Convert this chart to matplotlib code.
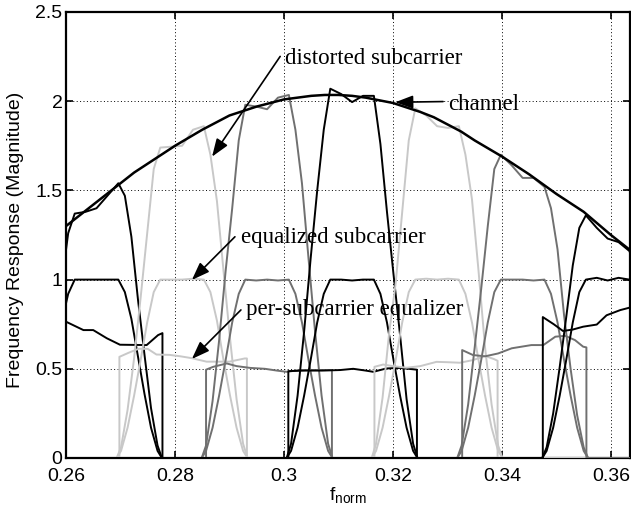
import matplotlib
matplotlib.use('Agg')
import matplotlib.pyplot as plt

# channel magnitude
channel_f = [0.2550, 0.2600, 0.2625, 0.2650, 0.2675, 0.2700, 0.2725, 0.2750, 0.2775, 0.2800, 0.2825,
             0.2850, 0.2875, 0.2900, 0.2925, 0.2950, 0.2975, 0.3000, 0.3025, 0.3050, 0.3075, 0.3100,
             0.3125, 0.3150, 0.3175, 0.3200, 0.3225, 0.3250, 0.3275, 0.3300, 0.3325, 0.3350, 0.3375,
             0.3400, 0.3425, 0.3450, 0.3475, 0.3500, 0.3525, 0.3550, 0.3575, 0.3600, 0.3625, 0.3650]
channel_mag = [1.20, 1.30, 1.36, 1.42, 1.48, 1.54, 1.60, 1.65, 1.70, 1.75, 1.795,
               1.84, 1.88, 1.92, 1.945, 1.97, 1.99, 2.01, 2.02, 2.03, 2.035, 2.035,
               2.03, 2.02, 2.005, 1.99, 1.965, 1.94, 1.91, 1.87, 1.83, 1.78, 1.735,
               1.69, 1.64, 1.59, 1.535, 1.48, 1.43, 1.38, 1.315, 1.25, 1.19, 1.13]

# subcarriers: frequency grid, distorted and equalized spectra
x_sc1 = [0.2500, 0.2536, 0.2544, 0.2556, 0.2568, 0.2580, 0.2592, 0.2604, 0.2616, 0.2636, 0.2656,
         0.2676, 0.2696, 0.2708, 0.2720, 0.2732, 0.2744, 0.2756, 0.2768, 0.2776, 0.3700]
dist_sc1 = [0, 0, 0.05, 0.21, 0.44, 0.70, 0.98, 1.26, 1.37, 1.38, 1.40,
            1.47, 1.54, 1.47, 1.24, 0.89, 0.58, 0.28, 0.07, 0, 0]
eq_sc1 = [0, 0, 0.04, 0.17, 0.35, 0.55, 0.76, 0.92, 1.0, 1.0, 1.0,
          1.0, 1.0, 0.93, 0.78, 0.57, 0.36, 0.17, 0.04, 0, 0]

x_sc2 = [0.2500, 0.2693, 0.2701, 0.2713, 0.2725, 0.2737, 0.2749, 0.2761, 0.2773, 0.2793, 0.2813,
         0.2833, 0.2853, 0.2865, 0.2877, 0.2889, 0.2901, 0.2913, 0.2925, 0.2933, 0.3700]
dist_sc2 = [0, 0, 0.06, 0.27, 0.56, 0.90, 1.26, 1.62, 1.74, 1.745, 1.75,
            1.84, 1.86, 1.70, 1.44, 1.05, 0.67, 0.33, 0.08, 0, 0]
eq_sc2 = [0, 0, 0.04, 0.17, 0.35, 0.55, 0.76, 0.93, 1.0, 1.0, 1.0,
          1.005, 1.0, 0.93, 0.77, 0.55, 0.35, 0.17, 0.04, 0, 0]

x_sc3 = [0.2500, 0.2849, 0.2857, 0.2869, 0.2881, 0.2893, 0.2905, 0.2917, 0.2929, 0.2949, 0.2969,
         0.2989, 0.3009, 0.3021, 0.3033, 0.3045, 0.3057, 0.3069, 0.3081, 0.3089, 0.3700]
dist_sc3 = [0, 0, 0.07, 0.32, 0.66, 1.05, 1.40, 1.78, 1.98, 1.97, 1.955,
            2.02, 2.035, 1.84, 1.54, 1.12, 0.71, 0.35, 0.08, 0, 0]
eq_sc3 = [0, 0, 0.04, 0.17, 0.35, 0.55, 0.76, 0.92, 1.0, 0.995, 1.0,
          0.995, 1.0, 0.92, 0.76, 0.55, 0.35, 0.17, 0.04, 0, 0]

x_sc4 = [0.2500, 0.3005, 0.3013, 0.3025, 0.3037, 0.3049, 0.3061, 0.3073, 0.3085, 0.3105, 0.3125,
         0.3145, 0.3165, 0.3177, 0.3189, 0.3201, 0.3213, 0.3225, 0.3237, 0.3245, 0.3700]
dist_sc4 = [0, 0, 0.08, 0.35, 0.71, 1.12, 1.50, 1.84, 2.07, 2.04, 1.995,
            2.03, 2.03, 1.76, 1.38, 1.03, 0.69, 0.33, 0.08, 0, 0]
eq_sc4 = [0, 0, 0.04, 0.17, 0.35, 0.55, 0.76, 0.92, 1.0, 1.0, 0.995,
          1.0, 1.0, 0.92, 0.76, 0.55, 0.35, 0.17, 0.04, 0, 0]

x_sc5 = [0.2500, 0.3161, 0.3169, 0.3181, 0.3193, 0.3205, 0.3217, 0.3229, 0.3241, 0.3261, 0.3281,
         0.3301, 0.3321, 0.3333, 0.3345, 0.3357, 0.3369, 0.3381, 0.3393, 0.3401, 0.3700]
dist_sc5 = [0, 0, 0.08, 0.34, 0.70, 0.98, 1.38, 1.78, 1.96, 1.92, 1.86,
            1.85, 1.86, 1.70, 1.45, 1.05, 0.62, 0.30, 0.07, 0, 0]
eq_sc5 = [0, 0, 0.04, 0.17, 0.35, 0.55, 0.76, 0.93, 1.0, 1.005, 1.0,
          1.005, 1.0, 0.92, 0.76, 0.55, 0.35, 0.17, 0.04, 0, 0]

x_sc6 = [0.2500, 0.3318, 0.3326, 0.3338, 0.3350, 0.3362, 0.3374, 0.3386, 0.3398, 0.3418, 0.3438,
         0.3458, 0.3478, 0.3490, 0.3502, 0.3514, 0.3526, 0.3538, 0.3550, 0.3558, 0.3700]
dist_sc6 = [0, 0, 0.07, 0.30, 0.62, 0.95, 1.30, 1.62, 1.70, 1.64, 1.57,
            1.57, 1.52, 1.40, 1.17, 0.80, 0.50, 0.24, 0.06, 0, 0]
eq_sc6 = [0, 0, 0.04, 0.17, 0.35, 0.55, 0.76, 0.93, 1.0, 1.0, 1.0,
          0.995, 1.0, 0.92, 0.76, 0.55, 0.35, 0.17, 0.04, 0, 0]

x_sc7 = [0.2500, 0.3474, 0.3482, 0.3494, 0.3506, 0.3518, 0.3530, 0.3542, 0.3554, 0.3574, 0.3594,
         0.3614, 0.3634, 0.3646, 0.3658, 0.3670, 0.3682, 0.3694, 0.3706, 0.3714, 0.3750]
dist_sc7 = [0, 0, 0.06, 0.25, 0.51, 0.79, 1.08, 1.29, 1.36, 1.29, 1.23,
            1.21, 1.16, 1.05, 0.85, 0.60, 0.38, 0.18, 0.05, 0, 0]
eq_sc7 = [0, 0, 0.04, 0.17, 0.35, 0.55, 0.76, 0.93, 1.0, 1.01, 0.995,
          1.01, 1.0, 0.93, 0.76, 0.55, 0.35, 0.17, 0.04, 0, 0]

# per-subcarrier equalizers
x_eqz1 = [0.2500, 0.2540, 0.2540, 0.2600, 0.2632, 0.2650, 0.2675, 0.2699, 0.2748, 0.2769, 0.2777, 0.2777, 0.3700]
eqz1 = [0, 0, 0.80, 0.764, 0.717, 0.717, 0.671, 0.635, 0.633, 0.689, 0.700, 0, 0]
x_eqz2 = [0.2500, 0.2698, 0.2698, 0.2715, 0.2733, 0.2750, 0.2766, 0.2790, 0.2810, 0.2830, 0.2858, 0.2900,
          0.2928, 0.2932, 0.2932, 0.3700]
eqz2 = [0, 0, 0.567, 0.590, 0.612, 0.612, 0.580, 0.578, 0.570, 0.560, 0.540, 0.540, 0.558, 0.558, 0, 0]
x_eqz3 = [0.2500, 0.2857, 0.2857, 0.2870, 0.2895, 0.2913, 0.2938, 0.2965, 0.2987, 0.3005, 0.3029, 0.3060,
          0.3088, 0.3088, 0.3700]
eqz3 = [0, 0, 0.495, 0.511, 0.530, 0.515, 0.505, 0.500, 0.490, 0.483, 0.493, 0.493, 0.493, 0, 0]
x_eqz4 = [0.2500, 0.3008, 0.3008, 0.3040, 0.3070, 0.3103, 0.3127, 0.3150, 0.3164, 0.3188, 0.3213, 0.3244,
          0.3244, 0.3700]
eqz4 = [0, 0, 0.487, 0.490, 0.490, 0.493, 0.500, 0.490, 0.483, 0.502, 0.505, 0.495, 0, 0]
x_eqz5 = [0.2500, 0.3166, 0.3166, 0.3182, 0.3200, 0.3225, 0.3250, 0.3280, 0.3300, 0.3323, 0.3347, 0.3369,
          0.3385, 0.3392, 0.3392, 0.3700]
eqz5 = [0, 0, 0.511, 0.524, 0.515, 0.506, 0.515, 0.539, 0.537, 0.534, 0.549, 0.572, 0.555, 0.545, 0, 0]
x_eqz6 = [0.2500, 0.3327, 0.3327, 0.3347, 0.3369, 0.3393, 0.3418, 0.3454, 0.3476, 0.3498, 0.3516, 0.3534,
          0.3549, 0.3555, 0.3555, 0.3700]
eqz6 = [0, 0, 0.605, 0.577, 0.570, 0.586, 0.615, 0.633, 0.633, 0.680, 0.685, 0.661, 0.624, 0.620, 0, 0]
x_eqz7 = [0.2500, 0.3475, 0.3475, 0.3495, 0.3512, 0.3530, 0.3549, 0.3574, 0.3592, 0.3617, 0.3637, 0.3660, 0.3700]
eqz7 = [0, 0, 0.790, 0.750, 0.712, 0.720, 0.736, 0.748, 0.800, 0.829, 0.845, 0.850, 0.850]

xticks = [0.26, 0.28, 0.30, 0.32, 0.34, 0.36]
xtick_labels = ['0.26', '0.28', '0.3', '0.32', '0.34', '0.36']
yticks = [0, 0.5, 1, 1.5, 2, 2.5]
ytick_labels = ['0', '0.5', '1', '1.5', '2', '2.5']

plt.rcParams['font.family'] = ['Liberation Sans', 'DejaVu Sans']

black = 'k'
light = '#c8c8c8'
dark = '#707070'
colors = [black, light, dark, black, light, dark, black]
sc_x = [x_sc1, x_sc2, x_sc3, x_sc4, x_sc5, x_sc6, x_sc7]
sc_dist = [dist_sc1, dist_sc2, dist_sc3, dist_sc4, dist_sc5, dist_sc6, dist_sc7]
sc_eq = [eq_sc1, eq_sc2, eq_sc3, eq_sc4, eq_sc5, eq_sc6, eq_sc7]
eqz_x = [x_eqz1, x_eqz2, x_eqz3, x_eqz4, x_eqz5, x_eqz6, x_eqz7]
eqz_y = [eqz1, eqz2, eqz3, eqz4, eqz5, eqz6, eqz7]

fig = plt.figure(figsize=(6.31, 5.12), dpi=100)
ax = fig.add_axes([66 / 631, 54 / 512, 564 / 631, 446 / 512])

for i in range(7):
    ax.plot(sc_x[i], sc_dist[i], color=colors[i], lw=1.4, zorder=3)
    ax.plot(sc_x[i], sc_eq[i], color=colors[i], lw=1.4, zorder=3)
    ax.plot(eqz_x[i], eqz_y[i], color=colors[i], lw=1.4, zorder=3)

ax.plot(channel_f, channel_mag, color='k', lw=1.8, zorder=4)

ax.set_xlim(0.26, 0.3635)
ax.set_ylim(0, 2.5)
ax.set_xticks(xticks)
ax.set_xticklabels(xtick_labels)
ax.set_yticks(yticks)
ax.set_yticklabels(ytick_labels)
ax.tick_params(direction='in', top=True, right=True, length=5, width=1.2, labelsize=14)
ax.tick_params(axis='x', pad=7)
ax.tick_params(axis='y', pad=2.5)
ax.grid(True, color='k', lw=0.7, linestyle=(0, (1, 2.5)))
ax.set_axisbelow(True)
for s in ax.spines.values():
    s.set_linewidth(1.6)

ax.set_xlabel(r'f$_\mathregular{norm}$', fontsize=14, labelpad=1)
ax.set_ylabel('Frequency Response (Magnitude)', fontsize=14)
ax.yaxis.set_label_coords(-0.074, 0.49)

serif = ['Liberation Serif', 'DejaVu Serif']
aprops = dict(arrowstyle='-|>,head_length=0.6,head_width=0.22', mutation_scale=18,
              color='k', lw=1.2, shrinkA=0, shrinkB=0)
ax.annotate('', xy=(0.2868, 1.689), xytext=(0.2993, 2.251), arrowprops=aprops, zorder=5)
ax.text(0.3002, 2.206, 'distorted subcarrier', family=serif, fontsize=16.5, va='baseline', zorder=5)
ax.annotate('', xy=(0.3204, 1.994), xytext=(0.3292, 1.998), arrowprops=aprops, zorder=5)
ax.text(0.3301, 1.953, 'channel', family=serif, fontsize=16.5, va='baseline', zorder=5)
ax.annotate('', xy=(0.2831, 0.998), xytext=(0.2910, 1.24), arrowprops=aprops, zorder=5)
ax.text(0.2922, 1.204, 'equalized subcarrier', family=serif, fontsize=16.5, va='baseline', zorder=5)
ax.annotate('', xy=(0.2831, 0.555), xytext=(0.2921, 0.83), arrowprops=aprops, zorder=5)
ax.text(0.2931, 0.80, 'per-subcarrier equalizer', family=serif, fontsize=16.5, va='baseline', zorder=5)

fig.savefig('out.png', dpi=100)
